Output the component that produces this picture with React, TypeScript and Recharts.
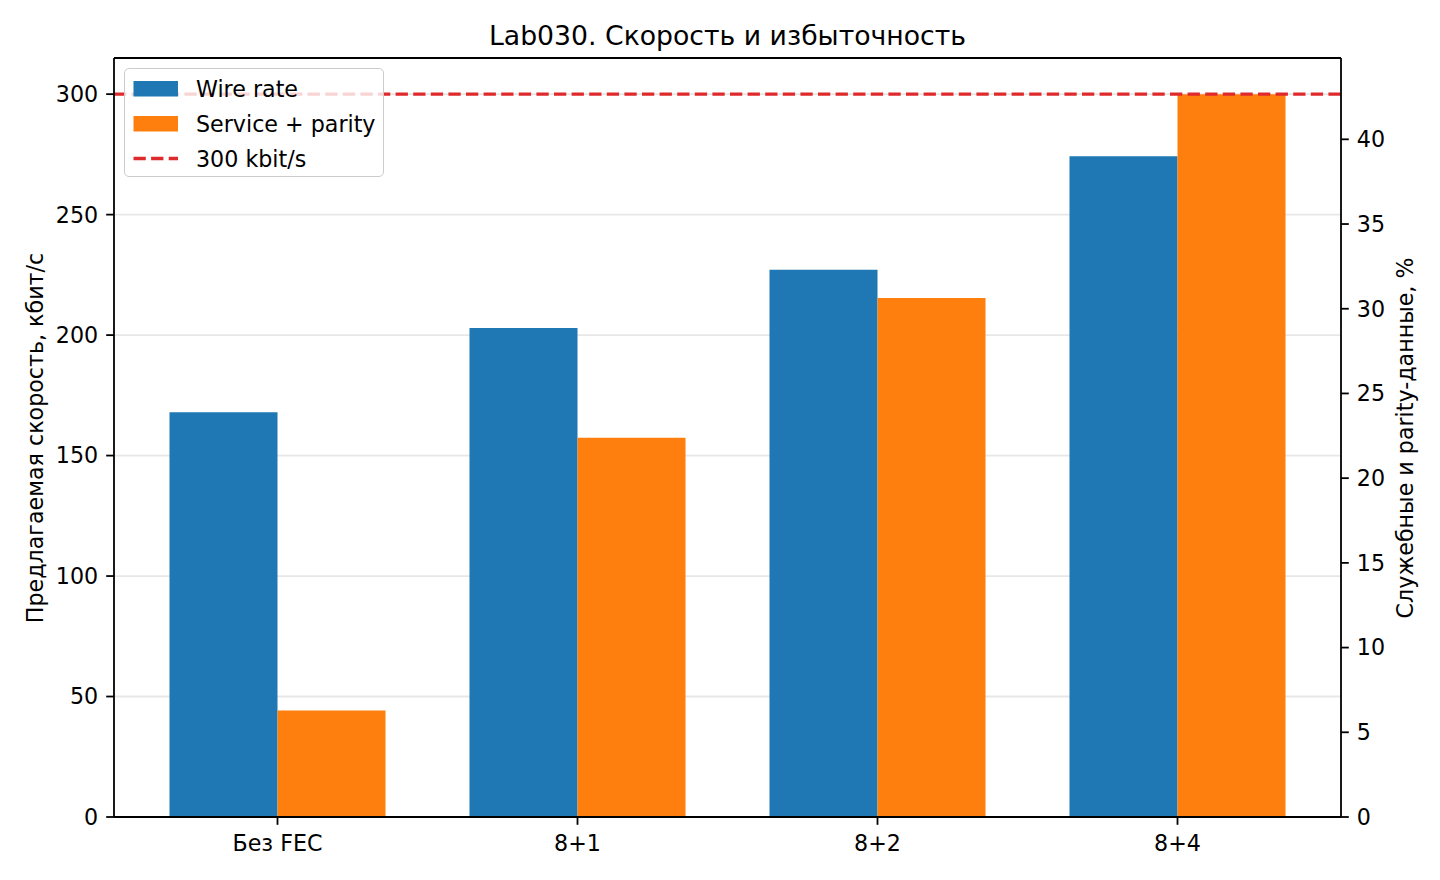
import { BarChart, Bar, XAxis, YAxis, CartesianGrid, ReferenceLine } from "recharts";

const categories = ["Без FEC", "8+1", "8+2", "8+4"];
const wireRate = [168.0, 202.9, 227.1, 274.2];
const serviceParity = [6.28, 22.38, 30.63, 42.66];
const rateTicks = [0, 50, 100, 150, 200, 250, 300];
const shareTicks = [0, 5, 10, 15, 20, 25, 30, 35, 40];
const rateLimit = 300;

const data = categories.map((name, i) => ({
  name,
  wire: wireRate[i],
  service: serviceParity[i],
}));

const FONT = "'DejaVu Sans', sans-serif";
const BLUE = "#1f77b4";
const ORANGE = "#ff7f0e";
const RED = "#df2a2c";
const FS = 22.2;
const axisStroke = { stroke: "#000", strokeWidth: 1.8 };
const tickStyle = { fill: "#000", fontSize: FS, fontFamily: FONT };

const legendItems = [
  { label: "Wire rate", color: BLUE, kind: "patch" },
  { label: "Service + parity", color: ORANGE, kind: "patch" },
  { label: "300 kbit/s", color: RED, kind: "line" },
];

export default function App() {
  return (
    <div
      style={{
        position: "absolute",
        left: 0,
        top: 0,
        width: 1440,
        height: 880,
        background: "#fff",
        fontFamily: FONT,
      }}
    >
      <BarChart
        width={1440}
        height={880}
        data={data}
        margin={{ top: 58, right: 19, bottom: 23, left: 34 }}
        barGap={0}
      >
        <CartesianGrid
          yAxisId="left"
          vertical={false}
          stroke="#b0b0b0"
          strokeOpacity={0.3}
          strokeWidth={1.8}
        />
        <XAxis
          dataKey="name"
          height={40}
          padding={{ left: 13.5, right: 13.5 }}
          tick={tickStyle}
          tickSize={7.8}
          tickMargin={10.5}
          axisLine={axisStroke}
          tickLine={axisStroke}
        />
        <YAxis
          yAxisId="left"
          width={80}
          domain={[0, 315]}
          ticks={rateTicks}
          tick={tickStyle}
          tickSize={7.8}
          tickMargin={8}
          axisLine={axisStroke}
          tickLine={axisStroke}
        />
        <YAxis
          yAxisId="right"
          orientation="right"
          width={80}
          domain={[0, 44.8]}
          ticks={shareTicks}
          tick={tickStyle}
          tickSize={7.8}
          tickMargin={8}
          axisLine={axisStroke}
          tickLine={axisStroke}
        />
        <Bar yAxisId="left" dataKey="wire" fill={BLUE} barSize={108} isAnimationActive={false} />
        <Bar yAxisId="right" dataKey="service" fill={ORANGE} barSize={108} isAnimationActive={false} />
        <ReferenceLine
          yAxisId="left"
          y={rateLimit}
          stroke={RED}
          strokeWidth={3.3}
          strokeDasharray="12.3 5.3"
        />
        <ReferenceLine yAxisId="left" y={315} stroke="#000" strokeWidth={1.8} />
      </BarChart>

      <div
        style={{
          position: "absolute",
          left: 0,
          width: 1455,
          top: 18,
          textAlign: "center",
          fontSize: 26.7,
          lineHeight: "36px",
          color: "#000",
        }}
      >
        Lab030. Скорость и избыточность
      </div>

      <div
        style={{
          position: "absolute",
          left: 35,
          top: 438,
          transform: "translate(-50%, -50%) rotate(-90deg)",
          whiteSpace: "nowrap",
          fontSize: FS,
          color: "#000",
        }}
      >
        Предлагаемая скорость, кбит/с
      </div>
      <div
        style={{
          position: "absolute",
          left: 1405,
          top: 438,
          transform: "translate(-50%, -50%) rotate(-90deg)",
          whiteSpace: "nowrap",
          fontSize: FS,
          color: "#000",
        }}
      >
        Служебные и parity-данные, %
      </div>

      <div
        style={{
          position: "absolute",
          left: 124,
          top: 68,
          width: 258,
          height: 107,
          background: "rgba(255,255,255,0.8)",
          border: "1.5px solid #cccccc",
          borderRadius: 5,
        }}
      >
        {legendItems.map((item, i) => (
          <div
            key={item.label}
            style={{
              position: "absolute",
              left: 0,
              top: 2 + i * 35,
              height: 35,
              display: "flex",
              alignItems: "center",
              fontSize: FS,
              color: "#000",
              whiteSpace: "nowrap",
            }}
          >
            <svg width={71} height={35} style={{ flex: "none" }}>
              {item.kind === "patch" ? (
                <rect x={8.5} y={10} width={44.5} height={15.5} fill={item.color} />
              ) : (
                <line
                  x1={8.5}
                  x2={53}
                  y1={17.5}
                  y2={17.5}
                  stroke={item.color}
                  strokeWidth={3.3}
                  strokeDasharray="12.3 5.3"
                />
              )}
            </svg>
            <span>{item.label}</span>
          </div>
        ))}
      </div>
    </div>
  );
}
